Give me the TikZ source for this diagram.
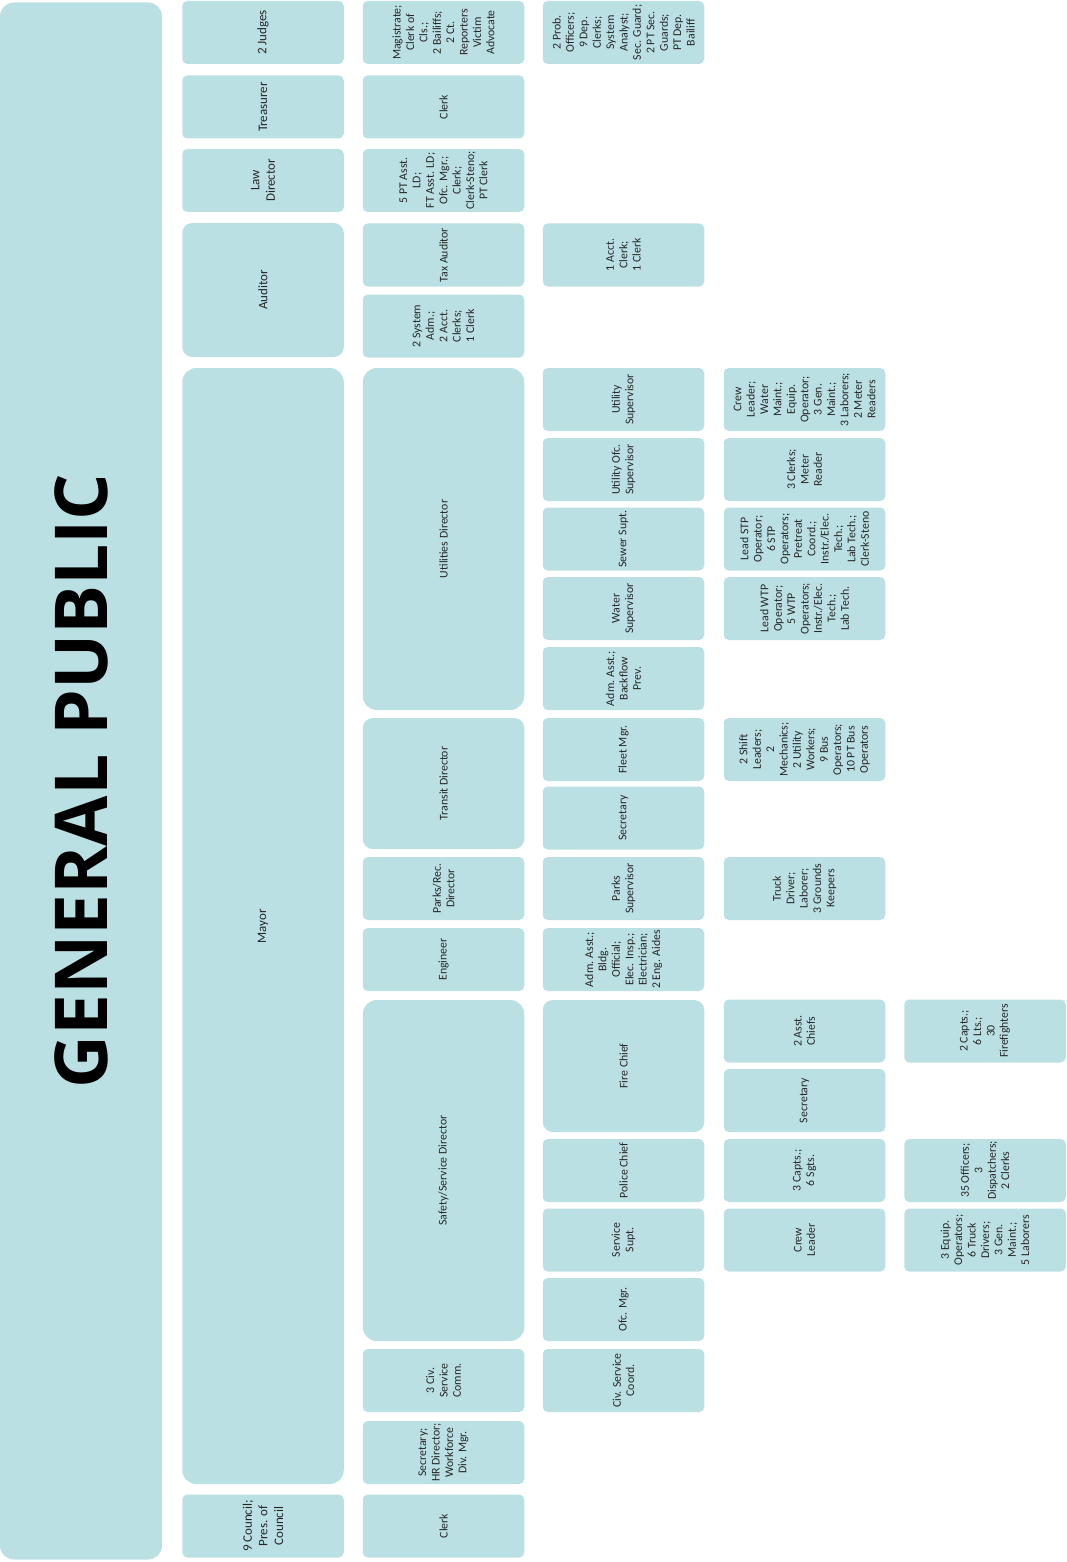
\documentclass[tikz,border=0pt]{standalone}
\usepackage{fontspec}
\usepackage{xcolor}
\setmainfont{Carlito}
\newfontfamily\gpfont{Open Sans}
\definecolor{boxteal}{RGB}{187,224,227}
\definecolor{boxtext}{RGB}{38,38,38}

\begin{document}
\begin{tikzpicture}[
    x=1pt, y=-1pt,
    box/.style={
        rectangle, fill=boxteal, draw=none, rotate=90,
        align=center, text=boxtext, inner sep=1pt,
        minimum height=161.5pt, font=\fontsize{11.8}{13.4}\selectfont
    },
    % one row of the chart
    unit/.style={box, minimum width=63pt, rounded corners=5pt},
    % boxes that span several rows
    tall/.style={box, minimum width=#1, rounded corners=10pt},
    big/.style={box, minimum width=#1, rounded corners=14pt},
    % elected offices
    head/.style={font=\fontsize{13}{15.6}\selectfont}
]
\useasboundingbox (0,0) rectangle (1066,1562);

% === General public ===
\node[big=1557pt, minimum height=162pt, font=\gpfont\bfseries\fontsize{73}{73}\selectfont, text=black]
    (GP) at (81, 781) {GENERAL PUBLIC};

% === Elected offices ===
\node[unit, head] (Judges)    at (263, 32.5)  {2 Judges};
\node[unit, head] (Treasurer) at (263, 107)   {Treasurer};
\node[unit, head] (LawDir)    at (263, 180.5) {Law\\Director};
\node[tall=134pt, head] (Auditor) at (263, 290) {Auditor};
\node[big=1116pt, head] (Mayor)   at (263, 926) {Mayor};
\node[unit, head] (Council)   at (263, 1526)  {9 Council;\\Pres. of\\Council};

% === Second level ===
\node[unit] (CourtStaff) at (443.5, 32.5)  {Magistrate;\\Clerk of\\Cls.;\\2 Bailiffs;\\2 Ct.\\Reporters\\Victim\\Advocate};
\node[unit] (TreasClerk) at (443.5, 107)   {Clerk};
\node[unit] (LawStaff)   at (443.5, 180.5) {5 PT Asst.\\LD;\\FT Asst. LD;\\Ofc. Mgr.;\\Clerk;\\Clerk-Steno;\\PT Clerk};
\node[unit] (TaxAud)     at (443.5, 255)   {Tax Auditor};
\node[unit] (AudStaff)   at (443.5, 326)   {2 System\\Adm.;\\2 Acct.\\Clerks;\\1 Clerk};
\node[big=342pt] (UtilDir)    at (443.5, 539)   {Utilities Director};
\node[tall=131pt] (TransDir)  at (443.5, 783.5) {Transit Director};
\node[unit] (ParksDir)   at (443.5, 888.5)  {Parks/Rec.\\Director};
\node[unit] (Engineer)   at (443.5, 959.5)  {Engineer};
\node[big=341pt] (SafetyDir)  at (443.5, 1170.5) {Safety/Service Director};
\node[unit] (CivComm)    at (443.5, 1380.5) {3 Civ.\\Service\\Comm.};
\node[unit] (MayorStaff) at (443.5, 1452.5) {Secretary;\\HR Director;\\Workforce\\Div. Mgr.};
\node[unit] (CouncClerk) at (443.5, 1526)   {Clerk};

% === Third level ===
\node[unit] (ProbStaff)  at (623.5, 32.5)  {2 Prob.\\Officers;\\9 Dep.\\Clerks;\\System\\Analyst;\\Sec. Guard;\\2 PT Sec.\\Guards;\\PT Dep.\\Bailiff};
\node[unit] (TaxStaff)   at (623.5, 255)   {1 Acct.\\Clerk;\\1 Clerk};
\node[unit] (UtilSup)    at (623.5, 399.5) {Utility\\Supervisor};
\node[unit] (UtilOfc)    at (623.5, 469.5) {Utility Ofc.\\Supervisor};
\node[unit] (SewerSupt)  at (623.5, 539)   {Sewer Supt.};
\node[unit] (WaterSup)   at (623.5, 608.5) {Water\\Supervisor};
\node[unit] (UtilAsst)   at (623.5, 678.5) {Adm. Asst.;\\Backflow\\Prev.};
\node[unit] (FleetMgr)   at (623.5, 749.5) {Fleet Mgr.};
\node[unit] (TransSec)   at (623.5, 818)   {Secretary};
\node[unit] (ParksSup)   at (623.5, 888.5) {Parks\\Supervisor};
\node[unit] (EngStaff)   at (623.5, 959.5) {Adm. Asst.;\\Bldg.\\Official;\\Elec. Insp.;\\Electrician;\\2 Eng. Aides};
\node[tall=132pt] (FireChief) at (623.5, 1066) {Fire Chief};
\node[unit] (PoliceChief) at (623.5, 1170.5) {Police Chief};
\node[unit] (ServSupt)   at (623.5, 1240)   {Service\\Supt.};
\node[unit] (OfcMgr)     at (623.5, 1309.5) {Ofc. Mgr.};
\node[unit] (CivCoord)   at (623.5, 1380.5) {Civ. Service\\Coord.};

% === Fourth level ===
\node[unit] (UtilCrew)   at (804.5, 399.5) {Crew\\Leader;\\Water\\Maint.;\\Equip.\\Operator;\\3 Gen.\\Maint.;\\3 Laborers;\\2 Meter\\Readers};
\node[unit] (OfcStaff)   at (804.5, 469.5) {3 Clerks;\\Meter\\Reader};
\node[unit] (SewerStaff) at (804.5, 539)   {Lead STP\\Operator;\\6 STP\\Operators;\\Pretreat\\Coord.;\\Instr./Elec.\\Tech.;\\Lab Tech.;\\Clerk-Steno};
\node[unit] (WaterStaff) at (804.5, 608.5) {Lead WTP\\Operator;\\5 WTP\\Operators;\\Instr./Elec.\\Tech.;\\Lab Tech.};
\node[unit] (FleetStaff) at (804.5, 749.5) {2 Shift\\Leaders;\\2\\Mechanics;\\2 Utility\\Workers;\\9 Bus\\Operators;\\10 PT Bus\\Operators};
\node[unit] (ParksStaff) at (804.5, 888.5) {Truck\\Driver;\\Laborer;\\3 Grounds\\Keepers};
\node[unit] (AsstChiefs) at (804.5, 1031)  {2 Asst.\\Chiefs};
\node[unit] (FireSec)    at (804.5, 1100.5) {Secretary};
\node[unit] (PoliceCapts) at (804.5, 1170.5) {3 Capts.;\\6 Sgts.};
\node[unit] (CrewLeader) at (804.5, 1240)   {Crew\\Leader};

% === Fifth level ===
\node[unit] (FireCrew)   at (985, 1031)   {2 Capts.;\\6 Lts.;\\30\\Firefighters};
\node[unit] (PoliceCrew) at (985, 1170.5) {35 Officers;\\3\\Dispatchers;\\2 Clerks};
\node[unit] (ServCrew)   at (985, 1240)   {3 Equip.\\Operators;\\6 Truck\\Drivers;\\3 Gen.\\Maint.;\\5 Laborers};

\end{tikzpicture}
\end{document}
